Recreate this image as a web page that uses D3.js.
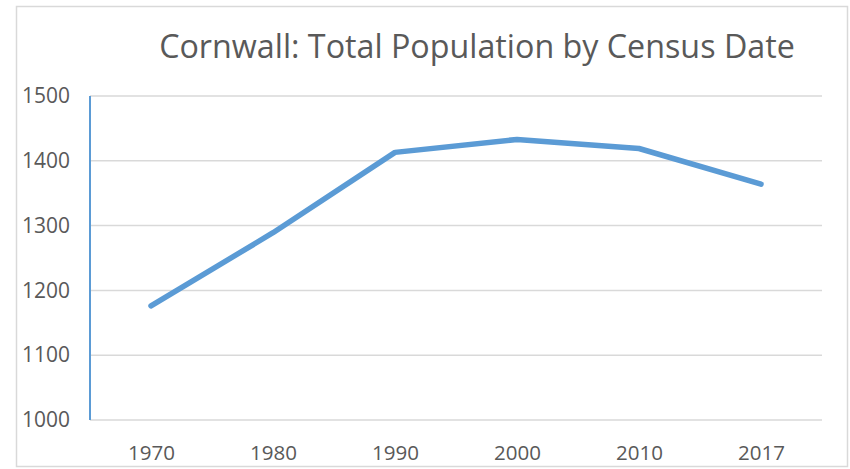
<!DOCTYPE html>
<html>
<head>
<meta charset="utf-8">
<script src="https://cdn.jsdelivr.net/npm/d3@7"></script>
<style>
  body { margin: 0; background: #fff; }
  text { font-family: "Open Sans", sans-serif; fill: #595959; }
</style>
</head>
<body>
<svg id="chart"></svg>
<script>
// chart data
var years = ["1970", "1980", "1990", "2000", "2010", "2017"];
var population = [1176, 1289, 1413, 1433, 1419, 1364];
var yTicks = [1000, 1100, 1200, 1300, 1400, 1500];

var screen = {width: 850, height: 469};
var plot = {left: 90, right: 822, top: 96, bottom: 420};

var svg = d3.select("#chart")
    .attr("width", screen.width)
    .attr("height", screen.height);

// resize text so it spans the given width
var fitText = function(sel, width) {
    sel.each(function() {
        var node = this;
        var size = parseFloat(d3.select(node).style("font-size"));
        var w = node.getComputedTextLength();
        d3.select(node).style("font-size", (size * width / w) + "px");
    });
}

// outer frame
svg.append("rect")
    .attr("x", 16.5)
    .attr("y", 6.5)
    .attr("width", 831)
    .attr("height", 460)
    .attr("fill", "#fff")
    .attr("stroke", "#d9d9d9")
    .attr("stroke-width", 1.5);

// scales
var xScale = d3.scalePoint()
    .domain(years)
    .range([plot.left, plot.right])
    .padding(0.5);

var yScale = d3.scaleLinear()
    .domain([1000, 1500])
    .range([plot.bottom, plot.top]);

// gridlines
svg.append("g")
    .selectAll("line")
    .data(yTicks)
    .enter()
    .append("line")
    .attr("x1", plot.left)
    .attr("x2", plot.right)
    .attr("y1", function(d) { return yScale(d); })
    .attr("y2", function(d) { return yScale(d); })
    .attr("stroke", "#d9d9d9")
    .attr("stroke-width", 1.5);

// y axis labels
var yAxis = d3.axisLeft(yScale)
    .tickValues(yTicks)
    .tickFormat(d3.format("d"))
    .tickSize(0)
    .tickPadding(20);

var yG = svg.append("g")
    .attr("transform", "translate(" + plot.left + ",0)")
    .call(yAxis);
yG.select(".domain").remove();
yG.selectAll("text")
    .style("font-size", "20px")
    .attr("fill", "#595959")
    .call(fitText, 48);

// blue vertical axis line
svg.append("line")
    .attr("x1", plot.left)
    .attr("x2", plot.left)
    .attr("y1", yScale(1500))
    .attr("y2", yScale(1000))
    .attr("stroke", "#5b9bd5")
    .attr("stroke-width", 2);

// x axis labels
var xAxis = d3.axisBottom(xScale)
    .tickSize(0);

var xG = svg.append("g")
    .attr("transform", "translate(0," + plot.bottom + ")")
    .call(xAxis);
xG.select(".domain").remove();
xG.selectAll("text")
    .style("font-size", "20px")
    .attr("fill", "#595959")
    .attr("y", 40)
    .attr("dy", 0)
    .call(fitText, 47);

// the population line
var line = d3.line()
    .x(function(d, i) { return xScale(years[i]); })
    .y(function(d) { return yScale(d); });

svg.append("path")
    .datum(population)
    .attr("d", line)
    .attr("fill", "none")
    .attr("stroke", "#5b9bd5")
    .attr("stroke-width", 5.5)
    .attr("stroke-linecap", "round")
    .attr("stroke-linejoin", "round");

// title
svg.append("text")
    .text("Cornwall: Total Population by Census Date")
    .attr("x", 477)
    .attr("y", 58)
    .attr("text-anchor", "middle")
    .style("font-size", "27px")
    .call(fitText, 636);
</script>
</body>
</html>
